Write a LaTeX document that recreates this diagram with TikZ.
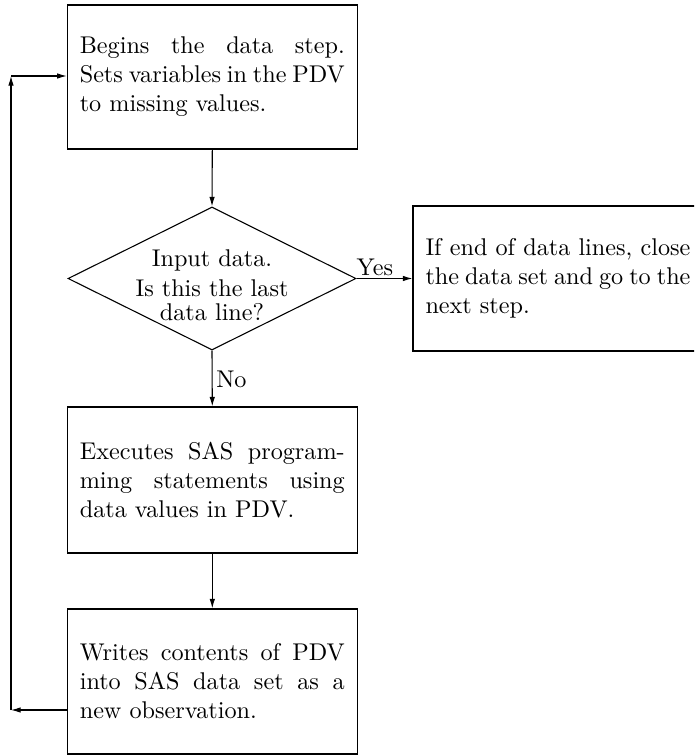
\documentclass[tikz,border=0pt]{standalone}
\usetikzlibrary{shapes.geometric,arrows.meta,calc}
\newcommand{\shiftl}{\leftskip=-0.9pt\rightskip=0.9pt\relax}
\begin{document}
\def\u{0.41322pt}
\begin{tikzpicture}[x=0.41322pt,y=-0.41322pt,
  arr/.style={-{Latex[length=4pt,width=2.3pt]},line width=0.45pt},
  procbox/.style={draw,line width=0.45pt,minimum width=290*\u,text width=265*\u,inner sep=0pt,align=justify,font=\normalsize},
  decis/.style={draw,line width=0.45pt,diamond,minimum width=288*\u,minimum height=143*\u,inner sep=0pt}]
\path[use as bounding box] (0,0) rectangle (694,756);
\clip (0,0) rectangle (694,756);
\node[procbox,minimum height=144*\u] (b1) at (212.3,77)
  {\shiftl Begins the data step.\linebreak Sets variables in the PDV\linebreak to missing values.};
\node[decis] (d) at (212,278.5) {};
\node[align=center,inner sep=0pt] (dt) at (212,285)
  {Input data.\\[0.5pt]Is this the last\\[-2pt]data line?};
\node[procbox,minimum height=145*\u] (by) at (558,278.5)
  {\shiftl If end of data lines, close\linebreak the data set and go to the\linebreak next step.};
\node[procbox,minimum height=146*\u] (b2) at (212.3,480)
  {\shiftl Executes SAS program-\linebreak ming statements using\linebreak data values in PDV.};
\node[procbox,minimum height=145*\u] (b3) at (212.3,681.5)
  {\shiftl Writes contents of PDV\linebreak into SAS data set as a\linebreak new observation.};
\draw[arr] (b1.south) -- (d.north);
\draw[arr] (d.east) -- node[above,inner sep=1pt,xshift=-4] (yes) {Yes} (by.west);
\draw[arr] (d.south) -- node[right,inner sep=1.5pt,yshift=-0.5] (no) {No} (b2.north);
\draw[arr] (b2.south) -- (b3.north);
\coordinate (lb) at (11,710);
\coordinate (lt) at (11,76);
\draw[arr] (b3.west |- lb) -- (lb);
\draw[arr] (lb) -- (lt);
\draw[arr] (lt) -- (lt -| b1.west);
\end{tikzpicture}
\end{document}
